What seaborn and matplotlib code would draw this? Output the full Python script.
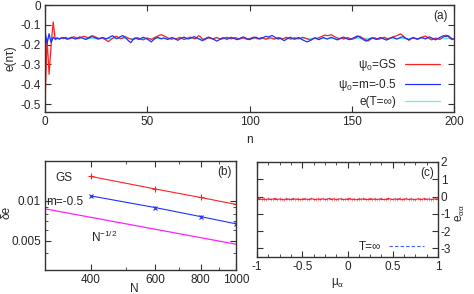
import numpy as np
import pandas as pd
import matplotlib
matplotlib.use("Agg")
import matplotlib.pyplot as plt
import seaborn as sns
from matplotlib.ticker import FixedLocator, NullFormatter, AutoMinorLocator

# ---- panel (a): e(n tau) vs n ----
n_steps = np.arange(201)
e_gs = [
    -0.500, -0.170, -0.350, -0.200, -0.085, -0.175, -0.168, -0.172, -0.165, -0.170,
    -0.163, -0.168, -0.171, -0.166, -0.160, -0.164, -0.170, -0.167, -0.162, -0.158,
    -0.161, -0.166, -0.160, -0.155, -0.158, -0.163, -0.167, -0.170, -0.166, -0.172,
    -0.178, -0.185, -0.176, -0.168, -0.162, -0.158, -0.165, -0.170, -0.166, -0.160,
    -0.163, -0.169, -0.172, -0.175, -0.170, -0.165, -0.168, -0.173, -0.176, -0.171,
    -0.166, -0.170, -0.174, -0.168, -0.162, -0.158, -0.152, -0.150, -0.155, -0.160,
    -0.166, -0.170, -0.173, -0.168, -0.172, -0.167, -0.163, -0.169, -0.174, -0.171,
    -0.166, -0.162, -0.165, -0.170, -0.168, -0.155, -0.160, -0.172, -0.176, -0.170,
    -0.165, -0.168, -0.171, -0.167, -0.164, -0.169, -0.173, -0.170, -0.166, -0.163,
    -0.167, -0.171, -0.168, -0.164, -0.168, -0.172, -0.169, -0.165, -0.170, -0.174,
    -0.170, -0.166, -0.162, -0.167, -0.171, -0.168, -0.164, -0.169, -0.173, -0.170,
    -0.165, -0.168, -0.172, -0.169, -0.164, -0.166, -0.171, -0.168, -0.163, -0.167,
    -0.172, -0.170, -0.165, -0.168, -0.171, -0.167, -0.163, -0.166, -0.170, -0.174,
    -0.178, -0.172, -0.166, -0.169, -0.164, -0.160, -0.156, -0.152, -0.155, -0.153,
    -0.150, -0.156, -0.162, -0.166, -0.170, -0.167, -0.172, -0.168, -0.164, -0.169,
    -0.173, -0.170, -0.165, -0.160, -0.158, -0.165, -0.170, -0.176, -0.182, -0.175,
    -0.168, -0.165, -0.169, -0.173, -0.170, -0.166, -0.163, -0.168, -0.172, -0.167,
    -0.162, -0.158, -0.155, -0.150, -0.146, -0.155, -0.165, -0.172, -0.178, -0.170,
    -0.166, -0.169, -0.173, -0.170, -0.165, -0.160, -0.157, -0.163, -0.170, -0.176,
    -0.172, -0.167, -0.170, -0.174, -0.168, -0.160, -0.152, -0.158, -0.168, -0.175,
    -0.170,
]
e_m05 = [
    -0.130, -0.195, -0.145, -0.190, -0.163, -0.170, -0.166, -0.171, -0.168, -0.164,
    -0.169, -0.173, -0.167, -0.163, -0.168, -0.172, -0.166, -0.161, -0.165, -0.170,
    -0.174, -0.169, -0.164, -0.160, -0.163, -0.168, -0.172, -0.168, -0.164, -0.167,
    -0.171, -0.166, -0.160, -0.155, -0.163, -0.170, -0.165, -0.159, -0.154, -0.162,
    -0.172, -0.182, -0.190, -0.175, -0.166, -0.170, -0.174, -0.168, -0.163, -0.167,
    -0.172, -0.179, -0.186, -0.176, -0.168, -0.163, -0.167, -0.171, -0.166, -0.170,
    -0.174, -0.169, -0.164, -0.168, -0.173, -0.178, -0.171, -0.166, -0.162, -0.167,
    -0.171, -0.168, -0.164, -0.160, -0.165, -0.170, -0.175, -0.180, -0.172, -0.166,
    -0.162, -0.166, -0.171, -0.176, -0.182, -0.177, -0.170, -0.165, -0.169, -0.173,
    -0.168, -0.163, -0.167, -0.171, -0.175, -0.170, -0.165, -0.161, -0.166, -0.171,
    -0.175, -0.170, -0.166, -0.162, -0.167, -0.172, -0.168, -0.163, -0.158, -0.162,
    -0.158, -0.154, -0.160, -0.167, -0.172, -0.168, -0.174, -0.180, -0.173, -0.167,
    -0.163, -0.168, -0.173, -0.169, -0.164, -0.170, -0.176, -0.181, -0.186, -0.183,
    -0.176, -0.170, -0.166, -0.171, -0.175, -0.169, -0.164, -0.168, -0.172, -0.167,
    -0.163, -0.167, -0.172, -0.176, -0.171, -0.166, -0.162, -0.167, -0.172, -0.175,
    -0.170, -0.165, -0.160, -0.156, -0.163, -0.170, -0.177, -0.182, -0.176, -0.169,
    -0.165, -0.170, -0.174, -0.169, -0.164, -0.168, -0.173, -0.177, -0.171, -0.166,
    -0.162, -0.167, -0.172, -0.168, -0.163, -0.160, -0.166, -0.171, -0.175, -0.169,
    -0.164, -0.168, -0.172, -0.168, -0.163, -0.167, -0.171, -0.166, -0.161, -0.166,
    -0.171, -0.176, -0.170, -0.164, -0.159, -0.155, -0.160, -0.154, -0.162, -0.170,
    -0.172,
]
e_inf = -0.167

# ---- panel (b): delta e vs N ----
N_sizes = [400, 600, 800, 1000]
de_gs = [0.0153, 0.0123, 0.0106, 0.0094]
de_gs_err = [0.0003, 0.0003, 0.0002, 0.0002]
de_m05 = [0.0109, 0.0089, 0.0076, 0.0067]
de_m05_err = [0.0002, 0.0002, 0.0002, 0.0002]
N_ref = [300, 1000]
de_ref = [0.0087, 0.0047]

# ---- panel (c): e_aa vs mu_a ----
mu_a = np.linspace(-1, 1, 81)
e_aa = [
    -0.15, -0.12, -0.17, -0.14, -0.18, -0.13, -0.16, -0.15, -0.11, -0.17,
    -0.14, -0.16, -0.19, -0.13, -0.15, -0.17, -0.12, -0.16, -0.14, -0.18,
    -0.15, -0.13, -0.16, -0.17, -0.12, -0.15, -0.18, -0.14, -0.16, -0.13,
    -0.17, -0.15, -0.11, -0.16, -0.14, -0.18, -0.15, -0.13, -0.17, -0.16,
    -0.14, -0.12, -0.17, -0.15, -0.19, -0.14, -0.16, -0.13, -0.15, -0.18,
    -0.12, -0.16, -0.14, -0.17, -0.15, -0.13, -0.18, -0.16, -0.11, -0.15,
    -0.17, -0.14, -0.16, -0.12, -0.18, -0.15, -0.13, -0.17, -0.14, -0.16,
    -0.19, -0.13, -0.15, -0.17, -0.12, -0.16, -0.14, -0.18, -0.15, -0.13, -0.16,
]
e_aa_err = 0.09
e_aa_inf = -0.15

sns.set_theme(style="ticks")
plt.rcParams['font.family'] = ['Liberation Sans', 'DejaVu Sans']
plt.rcParams['font.size'] = 8.5
plt.rcParams['mathtext.fontset'] = 'custom'
plt.rcParams['mathtext.rm'] = 'Liberation Sans'
plt.rcParams['mathtext.it'] = 'Liberation Sans'
plt.rcParams['mathtext.default'] = 'regular'
plt.rcParams['axes.linewidth'] = 1.0
plt.rcParams['axes.edgecolor'] = '#333333'

W, H = 474, 294
fig = plt.figure(figsize=(W / 100, H / 100), dpi=100)


def box(l, t, r, b):
    return [l / W, 1 - b / H, (r - l) / W, (b - t) / H]


def ticks_in(ax):
    ax.tick_params(which='both', direction='in', top=True, right=True,
                   labelsize=8.5, pad=3, color='#333333')
    ax.tick_params(which='major', length=4, width=0.8)
    ax.tick_params(which='minor', length=2, width=0.6)


# panel (a)
ax1 = fig.add_axes(box(45, 5, 454, 112))
df_a = pd.DataFrame({'n': n_steps, 'gs': e_gs, 'm': e_m05})
sns.lineplot(data=df_a, x='n', y='gs', ax=ax1, color='#ff2020', lw=0.9, label=r'ψ$_0$=GS')
sns.lineplot(data=df_a, x='n', y='m', ax=ax1, color='#2030ff', lw=0.9, label=r'ψ$_0$=m=-0.5')
ax1.axhline(e_inf, color='#60f0f0', lw=0.9, label='e(T=∞)', zorder=1)
ax1.set_xlim(0, 200)
ax1.set_ylim(-0.54, 0)
ax1.set_xticks([0, 50, 100, 150, 200])
ax1.set_yticks([0, -0.1, -0.2, -0.3, -0.4, -0.5])
ax1.set_yticklabels(['0', '-0.1', '-0.2', '-0.3', '-0.4', '-0.5'])
ax1.set_xlabel('n', fontsize=8.5, labelpad=4)
ax1.set_ylabel('e(nτ)', fontsize=8.5, labelpad=3)
ticks_in(ax1)
ax1.text(0.968, 0.9, '(a)', transform=ax1.transAxes, ha='center', va='center')
ax1.legend(loc='lower right', bbox_to_anchor=(0.966, 0.035), frameon=False,
           markerfirst=False, handlelength=3.0, handletextpad=0.7,
           labelspacing=0.3, fontsize=8.5, borderpad=0, borderaxespad=0)

# panel (b)
ax2 = fig.add_axes(box(45, 161, 236, 270))
ax2.set_xscale('log')
ax2.set_yscale('log')
ax2.errorbar(N_sizes, de_gs, yerr=de_gs_err, color='#ff2020', lw=0.8,
             marker='+', ms=4, mew=0.8, capsize=0, elinewidth=0.8)
ax2.errorbar(N_sizes, de_m05, yerr=de_m05_err, color='#2030ff', lw=0.8,
             marker='x', ms=3.5, mew=0.8, capsize=0, elinewidth=0.8)
sns.lineplot(x=N_ref, y=de_ref, ax=ax2, color='#ff20ff', lw=0.9)
ax2.set_xlim(300, 1000)
ax2.set_ylim(0.003, 0.02)
ax2.xaxis.set_major_locator(FixedLocator([400, 600, 800, 1000]))
ax2.xaxis.set_minor_locator(FixedLocator([300, 500, 700, 900]))
ax2.set_xticklabels(['400', '600', '800', '1000'])
ax2.xaxis.set_minor_formatter(NullFormatter())
ax2.yaxis.set_major_locator(FixedLocator([0.005, 0.01]))
ax2.yaxis.set_minor_locator(FixedLocator([0.003, 0.004, 0.006, 0.007, 0.008, 0.009, 0.02]))
ax2.set_yticklabels(['0.005', '0.01'])
ax2.yaxis.set_minor_formatter(NullFormatter())
ticks_in(ax2)
ax2.set_xlabel('N', fontsize=8.5)
ax2.xaxis.set_label_coords(0.47, -0.12)
fig.text(6 / W, 1 - 212 / H, 'δe', rotation=90, ha='center', va='center', fontsize=8.5)
ax2.text(0.052, 0.845, 'GS', transform=ax2.transAxes, ha='left', va='center')
ax2.text(0.005, 0.625, 'm=-0.5', transform=ax2.transAxes, ha='left', va='center')
ax2.text(0.24, 0.30, r'N$^{-1/2}$', transform=ax2.transAxes, ha='left', va='center')
ax2.text(0.94, 0.9, '(b)', transform=ax2.transAxes, ha='center', va='center')

# panel (c)
ax3 = fig.add_axes(box(257, 162, 438, 257))
ax3.errorbar(mu_a, e_aa, yerr=e_aa_err, fmt='none', ecolor='#ff9090', elinewidth=0.6)
sns.lineplot(x=mu_a, y=e_aa, ax=ax3, color='#ff2020', lw=0.8)
ax3.axhline(e_aa_inf, color='#4060ff', lw=0.8, ls=(0, (3, 2)), label='T=∞')
ax3.set_xlim(-1, 1)
ax3.set_ylim(-3.5, 2)
ax3.set_xticks([-1, -0.5, 0, 0.5, 1])
ax3.set_xticklabels(['-1', '-0.5', '0', '0.5', '1'])
ax3.set_yticks([2, 1, 0, -1, -2, -3])
ax3.set_yticklabels(['2', '1', '0', '-1', '-2', '-3'])
ax3.xaxis.set_minor_locator(AutoMinorLocator(4))
ax3.yaxis.tick_right()
ticks_in(ax3)
ax3.tick_params(axis='y', which='both', left=True, right=True, labelleft=False,
                labelright=True, pad=2)
ax3.set_xlabel('μ$_α$', fontsize=8.5)
ax3.xaxis.set_label_coords(0.445, -0.2)
fig.text(460 / W, 1 - 213 / H, 'e$_{αα}$', rotation=90, ha='center', va='center', fontsize=8.5)
ax3.text(0.94, 0.88, '(c)', transform=ax3.transAxes, ha='center', va='center')
ax3.legend(loc='lower right', bbox_to_anchor=(0.925, 0.04), frameon=False,
           markerfirst=False, handlelength=3.0, handletextpad=0.7, fontsize=8.5,
           borderpad=0, borderaxespad=0)

fig.savefig('out.png', dpi=100)
